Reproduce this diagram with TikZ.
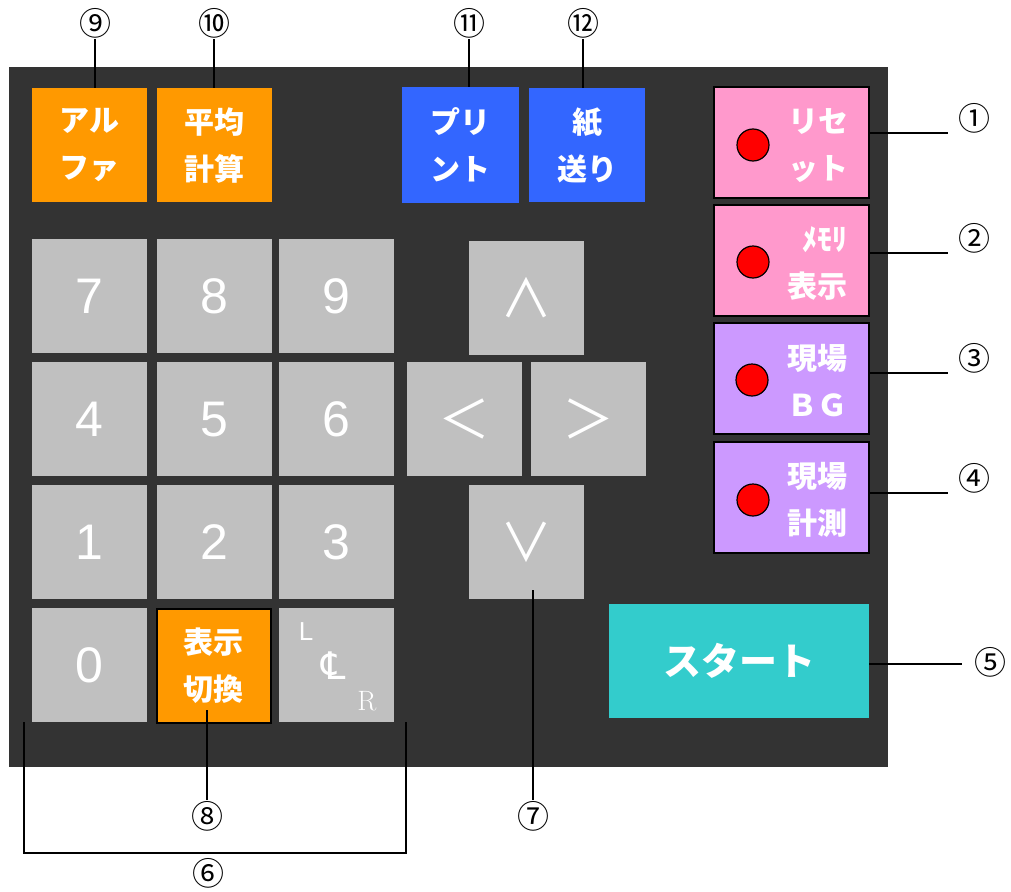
\documentclass[tikz,border=0pt]{standalone}
\usepackage{fontspec}
\newfontfamily\jp{Noto Sans CJK JP}
\newfontfamily\arialf{Liberation Sans}
\newfontfamily\djv{DejaVu Sans}
\definecolor{panelc}{HTML}{333333}
\definecolor{orangec}{HTML}{FF9900}
\definecolor{bluec}{HTML}{3366FF}
\definecolor{pinkc}{HTML}{FF99CC}
\definecolor{purplec}{HTML}{CC99FF}
\definecolor{grayc}{HTML}{C0C0C0}
\definecolor{tealc}{HTML}{33CCCC}
\definecolor{redc}{HTML}{FF0000}
\tikzset{
  keybox/.style={rectangle, inner sep=0pt, minimum width=115pt, minimum height=114pt, anchor=north west, text=white, align=center},
  numkey/.style={keybox, fill=grayc, font=\arialf\fontsize{50}{50}\selectfont},
  arrkey/.style={keybox, fill=grayc, font=\jp\fontsize{52}{52}\selectfont},
  jpkey/.style={keybox, font=\jp\bfseries\fontsize{30}{47}\selectfont},
  sidekey/.style={rectangle, inner sep=0pt, minimum width=155pt, minimum height=111pt, anchor=north west, draw=black, line width=1.5pt},
  sidetext/.style={text=white, align=center, inner sep=0pt, font=\jp\bfseries\fontsize{30}{47}\selectfont},
  lamp/.style={circle, fill=redc, draw=black, line width=1.2pt, minimum size=32pt, inner sep=0pt},
  lbl/.style={inner sep=1pt, font=\jp\fontsize{32}{32}\selectfont},
  conn/.style={draw=black, line width=1.8pt},
}
\begin{document}
\begin{tikzpicture}[x=1pt,y=-1pt]
\useasboundingbox (0,0) rectangle (1011,891);
\fill[white] (0,0) rectangle (1011,891);
\fill[panelc] (9,67) rectangle (888,767);
% top keys
\node[jpkey, fill=orangec] (k9) at (32,88) {アル\\ファ};
\node[jpkey, fill=orangec] (k10) at (157,88) {平均\\計算};
\node[jpkey, fill=bluec, minimum width=117pt, minimum height=116pt] (k11) at (402,87) {プリ\\ント};
\node[jpkey, fill=bluec, minimum width=116pt] (k12) at (529,88) {紙\\送り};
% number keys
\node[numkey] (n7) at (32,239) {7};
\node[numkey] (n8) at (157,239) {8};
\node[numkey] (n9) at (279,239) {9};
\node[numkey] (n4) at (32,362) {4};
\node[numkey] (n5) at (157,362) {5};
\node[numkey] (n6) at (279,362) {6};
\node[numkey] (n1) at (32,485) {1};
\node[numkey] (n2) at (157,485) {2};
\node[numkey] (n3) at (279,485) {3};
\node[numkey] (n0) at (32,608) {0};
\node[jpkey, fill=orangec, draw=black, line width=1.5pt, minimum width=114pt] (k8) at (156,608) {表示\\切換};
\node[keybox, fill=grayc] (kcl) at (279,608) {};
\node[text=white, inner sep=0pt, font=\arialf\fontsize{26}{26}\selectfont] (tl) at (306,632) {L};
\node[text=white, inner sep=0pt, font=\djv\fontsize{38}{38}\selectfont] (tc) at (334,666) {℄};
\node[text=white, inner sep=0pt, font=\rmfamily\fontsize{28}{28}\selectfont] (tr) at (367,701) {R};
% arrow keys
\node[arrkey] (au) at (469,241) {∧};
\node[arrkey] (al) at (407,362) {＜};
\node[arrkey] (ar) at (531,362) {＞};
\node[arrkey] (ad) at (469,485) {∨};
% side keys
\node[sidekey, fill=pinkc] (s1) at (713,86) {};
\node[sidekey, fill=pinkc] (s2) at (713,204) {};
\node[sidekey, fill=purplec] (s3) at (713,322) {};
\node[sidekey, fill=purplec] (s4) at (713,441) {};
\node[lamp] (r1) at (753,145) {};
\node[lamp] (r2) at (753,262) {};
\node[lamp] (r3) at (752,380) {};
\node[lamp] (r4) at (753,500) {};
\node[sidetext] (t1) at (818,146) {リセ\\ット};
\node[sidetext, align=right] (t2) at (817,264) {ﾒﾓﾘ\\表示};
\node[sidetext] (t3) at (817,381) {現場\\ＢＧ};
\node[sidetext] (t4) at (817,500) {現場\\計測};
% start
\node[rectangle, fill=tealc, inner sep=0pt, minimum width=260pt, minimum height=114pt, anchor=north west, text=white, font=\jp\bfseries\fontsize{38}{38}\selectfont] (st) at (609,604) {スタート};
% labels
\node[lbl] (l9) at (95,23) {⑨};
\node[lbl] (l10) at (214,23) {⑩};
\node[lbl] (l11) at (469,23) {⑪};
\node[lbl] (l12) at (583,23) {⑫};
\node[lbl] (l1) at (974,118) {①};
\node[lbl] (l2) at (974,238) {②};
\node[lbl] (l3) at (974,358) {③};
\node[lbl] (l4) at (974,478) {④};
\node[lbl] (l5) at (990,662) {⑤};
\node[lbl] (l6) at (208,873) {⑥};
\node[lbl] (l7) at (533,816) {⑦};
\node[lbl] (l8) at (207,816) {⑧};
% connectors
\draw[conn] (l9.south) -- (l9.south |- k9.north);
\draw[conn] (l10.south) -- (l10.south |- k10.north);
\draw[conn] (l11.south) -- (l11.south |- k11.north);
\draw[conn] (l12.south) -- (l12.south |- k12.north);
\coordinate (e1) at (948,133);
\coordinate (e2) at (948,253);
\coordinate (e3) at (948,373);
\coordinate (e4) at (948,493);
\coordinate (e5) at (962,664);
\draw[conn] (s1.east |- e1) -- (e1);
\draw[conn] (s2.east |- e2) -- (e2);
\draw[conn] (s3.east |- e3) -- (e3);
\draw[conn] (s4.east |- e4) -- (e4);
\draw[conn] (st.east |- e5) -- (e5);
\coordinate (c7) at (533,590);
\coordinate (c8) at (207,710);
\draw[conn] (c7) -- (c7 |- l7.north);
\draw[conn] (c8) -- (c8 |- l8.north);
\coordinate (b1) at (24,722);
\coordinate (b2) at (406,722);
\coordinate (b3) at (24,853);
\coordinate (b4) at (406,853);
\draw[conn] (b1) -- (b3) -- (b4) -- (b2);
\end{tikzpicture}
\end{document}
